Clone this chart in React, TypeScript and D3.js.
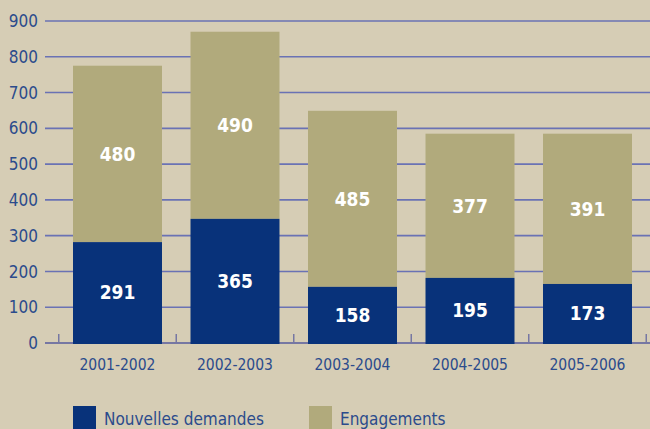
import React, { useEffect, useRef } from "react"
import * as d3 from "d3"

const periods = ["2001-2002", "2002-2003", "2003-2004", "2004-2005", "2005-2006"]
// printed values
const nouvellesDemandes = [291, 365, 158, 195, 173]
const engagements = [480, 490, 485, 377, 391]
// segment heights as drawn in the original (they don't quite match the printed values)
const nouvellesBars = [282, 347, 157, 182, 165]
const engagementsBars = [493, 523, 492, 403, 420]
const yTicks = [0, 100, 200, 300, 400, 500, 600, 700, 800, 900]
const seriesNames = ["Nouvelles demandes", "Engagements"]

const colors = ["#08327a", "#b1aa7c"]
const font = "'Liberation Sans Narrow', 'DejaVu Sans Condensed', 'Liberation Sans', sans-serif"

const App: React.FC = () => {
  const svgRef = useRef<SVGSVGElement>(null)

  useEffect(() => {
    const svg = d3.select(svgRef.current)
    svg.selectAll("*").remove()

    const width = 650
    const height = 429

    svg.append("rect").attr("width", width).attr("height", height).attr("fill", "#d6cdb5")

    const x = d3.scaleBand().domain(periods).range([73, 632]).paddingInner(0.2426).paddingOuter(0)
    const y = d3.scaleLinear().domain([0, 900]).range([343, 21])

    // grid lines
    svg
      .append("g")
      .selectAll("line")
      .data(yTicks.filter((d) => d > 0))
      .enter()
      .append("line")
      .attr("x1", 45)
      .attr("x2", width)
      .attr("y1", (d) => y(d))
      .attr("y2", (d) => y(d))
      .attr("stroke", "#6a72b4")
      .attr("stroke-width", 1.6)

    // y labels
    svg
      .append("g")
      .selectAll("text")
      .data(yTicks)
      .enter()
      .append("text")
      .attr("x", 38)
      .attr("y", (d) => y(d))
      .attr("dy", "0.36em")
      .attr("text-anchor", "end")
      .attr("font-family", font)
      .attr("font-size", 17)
      .attr("fill", "#2b4b8c")
      .text((d) => d)

    // x axis line + ticks (under the bars)
    const axis = svg.append("g")
    axis
      .append("line")
      .attr("x1", 45)
      .attr("x2", width)
      .attr("y1", y(0))
      .attr("y2", y(0))
      .attr("stroke", "#7677a3")
      .attr("stroke-width", 2.2)
    const gap = x.step() * x.paddingInner()
    const boundaries = [...periods.map((p) => (x(p) || 0) - gap / 2), (x(periods[4]) || 0) + x.bandwidth() + gap / 2]
    axis
      .selectAll(".tick")
      .data(boundaries)
      .enter()
      .append("line")
      .attr("x1", (d) => d)
      .attr("x2", (d) => d)
      .attr("y1", y(0))
      .attr("y2", y(0) - 9)
      .attr("stroke", "#7677a3")
      .attr("stroke-width", 1.5)

    const data = periods.map((p, i) => ({
      p,
      a: nouvellesBars[i],
      b: engagementsBars[i],
      la: nouvellesDemandes[i],
      lb: engagements[i],
    }))

    const bars = svg.append("g")
    bars
      .selectAll(".eng")
      .data(data)
      .enter()
      .append("rect")
      .attr("x", (d) => x(d.p) || 0)
      .attr("width", x.bandwidth())
      .attr("y", (d) => y(d.a + d.b))
      .attr("height", (d) => y(d.a) - y(d.a + d.b))
      .attr("fill", colors[1])
    bars
      .selectAll(".nd")
      .data(data)
      .enter()
      .append("rect")
      .attr("x", (d) => x(d.p) || 0)
      .attr("width", x.bandwidth())
      .attr("y", (d) => y(d.a))
      .attr("height", (d) => y(0) - y(d.a) + 1)
      .attr("fill", colors[0])

    const labelStyle = (sel: any) =>
      sel
        .attr("text-anchor", "middle")
        .attr("dy", "0.36em")
        .attr("font-family", font)
        .attr("font-weight", "bold")
        .attr("font-size", 19)
        .attr("fill", "#ffffff")

    bars
      .selectAll(".lnd")
      .data(data)
      .enter()
      .append("text")
      .attr("x", (d) => (x(d.p) || 0) + x.bandwidth() / 2)
      .attr("y", (d) => y(d.a / 2))
      .call(labelStyle)
      .text((d) => d.la)
    bars
      .selectAll(".leng")
      .data(data)
      .enter()
      .append("text")
      .attr("x", (d) => (x(d.p) || 0) + x.bandwidth() / 2)
      .attr("y", (d) => y(d.a + d.b / 2))
      .call(labelStyle)
      .text((d) => d.lb)

    // category labels
    svg
      .append("g")
      .selectAll("text")
      .data(periods)
      .enter()
      .append("text")
      .attr("x", (d) => (x(d) || 0) + x.bandwidth() / 2)
      .attr("y", 370)
      .attr("text-anchor", "middle")
      .attr("font-family", font)
      .attr("font-size", 15.5)
      .attr("fill", "#2b4b8c")
      .text((d) => d)

    // legend
    const legendX = [73, 309]
    const legend = svg.append("g")
    seriesNames.forEach((name, i) => {
      legend
        .append("rect")
        .attr("x", legendX[i])
        .attr("y", 406)
        .attr("width", 23)
        .attr("height", 23)
        .attr("fill", colors[i])
      legend
        .append("text")
        .attr("x", legendX[i] + 31)
        .attr("y", 425)
        .attr("font-family", font)
        .attr("font-size", 17)
        .attr("fill", "#2b4b8c")
        .text(name)
    })
  }, [])

  return (
    <svg
      ref={svgRef}
      width={650}
      height={429}
      style={{ position: "absolute", left: 0, top: 0, display: "block" }}
    ></svg>
  )
}

export default App
